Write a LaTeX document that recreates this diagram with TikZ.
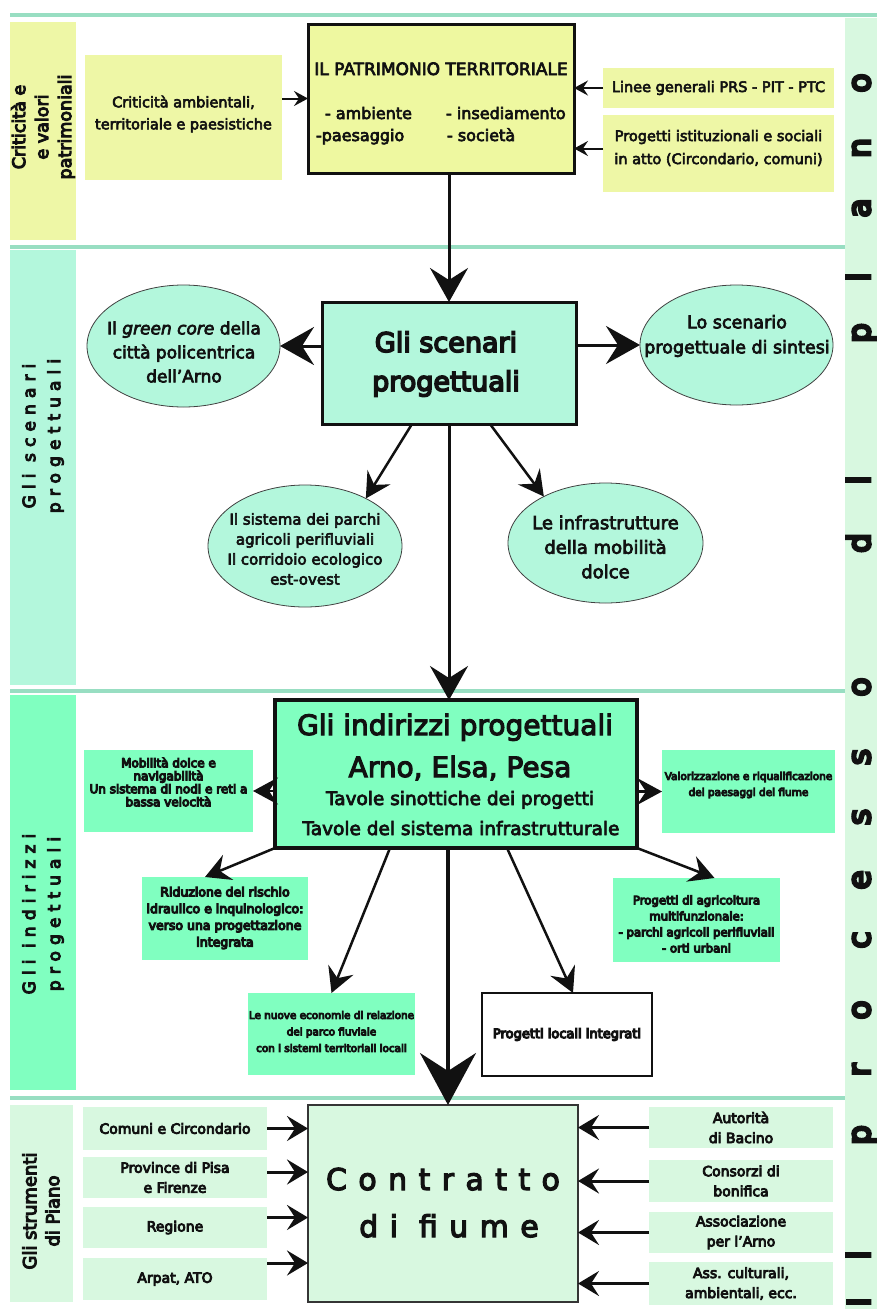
\documentclass[tikz,border=0pt]{standalone}
\usepackage{fontspec}
\setmainfont{DejaVu Sans}
\newfontfamily\semib{DejaVu Sans}[FakeBold=4]
\newfontfamily\heavy{DejaVu Sans}[FakeBold=6]
\newfontfamily\xheavy{DejaVu Sans}[FakeBold=9]
\usetikzlibrary{arrows.meta,shapes.geometric}
\newcommand{\myfs}[2]{\fontsize{#1pt}{#2pt}\selectfont}
\definecolor{yel}{HTML}{EEF7A6}
\definecolor{patrc}{HTML}{EEF8A0}
\definecolor{mint}{HTML}{B3F7DC}
\definecolor{brmint}{HTML}{80FFC0}
\definecolor{pale}{HTML}{D8F8E0}
\definecolor{sepc}{HTML}{98DEC2}
\definecolor{ink}{HTML}{111111}
\begin{document}
\begin{tikzpicture}[x=1pt,y=-1pt,
  every node/.style={inner sep=0pt,outer sep=0pt,text=ink},
  panel/.style={rectangle,draw=none},
  ell/.style={ellipse,draw=ink!80,line width=0.8pt,fill=mint},
  a1/.style={draw=ink,line width=2pt,-{Stealth[length=14pt,width=15pt,inset=5pt]}},
  a2/.style={draw=ink,line width=3pt,-{Stealth[length=34pt,width=38pt,inset=12pt]}},
  a3/.style={draw=ink,line width=2.5pt,-{Stealth[length=25pt,width=27pt,inset=9pt]}},
  a4/.style={draw=ink,line width=3.5pt,-{Stealth[length=52pt,width=56pt,inset=18pt]}},
  a5/.style={draw=ink,line width=3pt,-{Stealth[length=21pt,width=25pt,inset=8pt]}},
  sepl/.style={draw=sepc,line width=4.5pt},
  vlabel/.style={rotate=90,align=center},
  spc/.style={font=\heavy\myfs{17}{25}\addfontfeature{LetterSpace=36}}
]
\useasboundingbox[fill=white] (0,0) rectangle (877,1309);

% left bands and right column
\node[panel,fill=yel,minimum width=66pt,minimum height=218pt] (band1) at (43,131) {};
\node[panel,fill=mint,minimum width=66pt,minimum height=435pt] (band2) at (43,467.5) {};
\node[panel,fill=brmint,minimum width=66pt,minimum height=395pt] (band3) at (43,892.5) {};
\node[panel,fill=pale,minimum width=63pt,minimum height=197pt] (band4) at (41.5,1203.5) {};
\node[panel,fill=pale,minimum width=32pt,minimum height=1291pt] (rcol) at (861,663.5) {};

% separators
\draw[sepl] (10,15) -- (877,15);
\draw[sepl] (10,247) -- (845,247);
\draw[sepl] (10,691) -- (845,691);
\draw[sepl] (10,1098) -- (845,1098);

% band labels
\node[vlabel,font=\heavy\myfs{17.5}{23}] (band1t) at (43,127) {Criticità e\\e valori\\patrimoniali};
\node[vlabel,spc] (band2t) at (43,436) {Gli scenari\\progettuali};
\node[vlabel,spc] (band3t) at (43,914) {Gli indirizzi\\progettuali};
\node[vlabel,font=\heavy\myfs{18}{23}] (band4t) at (41,1211) {Gli strumenti\\di Piano};

% right column letters
\foreach \ch/\yy [count=\k] in {o/83,n/148,a/208,i/277,p/333,i/480,d/543,o/687,s/757,s/817,e/880,c/940,o/1010,r/1070,p/1135,l/1255,I/1302}
  \node[rotate=90,anchor=base,font=\xheavy\myfs{31}{31}] (rl\k) at (870,\yy) {\ch};

% ---- row 1
\node[panel,fill=yel,minimum width=197pt,minimum height=125pt] (crit) at (183.5,117.5) {};
\node[align=center,font=\semib\myfs{14.5}{22}] (critt) at (183.5,114) {Criticità ambientali,\\territoriale e paesistiche};
\node[rectangle,draw=ink,line width=3pt,fill=patrc,minimum width=266pt,minimum height=149pt] (patr) at (441,98.5) {};
\node[anchor=base,font=\semib\myfs{17}{20}] (ptitle) at (441,75) {IL PATRIMONIO TERRITORIALE};
\node[anchor=base west,font=\semib\myfs{16}{20}] (pamb) at (325,119) {- ambiente};
\node[anchor=base west,font=\semib\myfs{16}{20}] (ppae) at (316,141) {-paesaggio};
\node[anchor=base west,font=\semib\myfs{16}{20}] (pins) at (446,119) {- insediamento};
\node[anchor=base west,font=\semib\myfs{16}{20}] (psoc) at (447,141) {- società};
\node[panel,fill=yel,minimum width=231pt,minimum height=40pt,font=\semib\myfs{14.5}{18}] (linee) at (718.5,88) {Linee generali PRS - PIT - PTC};
\node[panel,fill=yel,minimum width=231pt,minimum height=77pt] (prog) at (718.5,153.5) {};
\node[align=center,font=\semib\myfs{14.5}{23}] (progt) at (718.5,148) {Progetti istituzionali e sociali\\in atto (Circondario, comuni)};
\coordinate (progw) at ([yshift=5pt]prog.west);

\draw[a1] (crit.east |- patr.west) -- (patr.west);
\draw[a1] (linee.west) -- (patr.east |- linee.west);
\draw[a1] (progw) -- (patr.east |- progw);

% ---- row 2
\node[rectangle,draw=ink,line width=3pt,fill=mint,minimum width=254pt,minimum height=122pt] (scen) at (449,363) {};
\node[anchor=base,font=\heavy\myfs{27}{30}] (scen1) at (446,352) {Gli scenari};
\node[anchor=base,font=\heavy\myfs{27}{30}] (scen2) at (446,391) {progettuali};
\node[ell,minimum width=193pt,minimum height=122pt] (gc) at (183.5,346) {};
\node[align=center,font=\semib\myfs{17}{24}] (gct) at (184,352) {Il \textit{green core} della\\città policentrica\\dell’Arno};
\node[ell,minimum width=193pt,minimum height=120pt] (sint) at (736.5,345) {};
\node[align=center,font=\semib\myfs{17.5}{25}] (sintt) at (737,336) {Lo scenario\\progettuale di sintesi};
\node[ell,minimum width=194pt,minimum height=122pt] (parchi) at (305,546) {};
\node[align=center,font=\semib\myfs{15}{20}] (parchit) at (305,549) {Il sistema dei parchi\\agricoli perifluviali\\Il corridoio ecologico\\est-ovest};
\node[ell,minimum width=195pt,minimum height=120pt] (infra) at (605.5,543) {};
\node[align=center,font=\semib\myfs{18}{24.5}] (infrat) at (605.5,547) {Le infrastrutture\\della mobilità\\dolce};

\draw[a2] (scen.north |- patr.south) -- (scen.north);
\draw[a2] (scen.west |- gc.east) -- (gc.east);
\draw[a2] (scen.east |- sint.west) -- (sint.west);
\draw[a3] ([xshift=-37pt]scen.south) -- (parchi.38);
\draw[a3] ([xshift=41pt]scen.south) -- (infra.143.6);

% ---- row 3
\node[rectangle,draw=ink,line width=4pt,fill=brmint,minimum width=362pt,minimum height=148pt] (ind) at (456,774) {};
\node[anchor=base,font=\semib\myfs{28}{30}] (ind1) at (455,735) {Gli indirizzi progettuali};
\node[anchor=base,font=\semib\myfs{28}{30}] (ind2) at (460,777) {Arno, Elsa, Pesa};
\node[anchor=base,font=\semib\myfs{18.5}{20}] (ind3) at (460,805) {Tavole sinottiche dei progetti};
\node[anchor=base,font=\semib\myfs{18.5}{20}] (ind4) at (461,835) {Tavole del sistema infrastrutturale};

\node[panel,fill=brmint,minimum width=169pt,minimum height=82pt] (mob) at (168.5,791) {};
\node[align=center,font=\xheavy\myfs{12}{13}] (mobt) at (168.5,782) {Mobilità dolce e\\navigabilità\\Un sistema di nodi e reti a\\bassa velocità};
\node[panel,fill=brmint,minimum width=173pt,minimum height=83pt] (valor) at (748.5,791.5) {};
\node[align=center,font=\xheavy\myfs{10.5}{16}] (valort) at (748.5,785) {Valorizzazione e riqualificazione\\dei paesaggi del fiume};
\node[panel,fill=brmint,minimum width=166pt,minimum height=83pt] (ridu) at (225,918.5) {};
\node[align=center,font=\xheavy\myfs{12.5}{16.7}] (ridut) at (225,918) {Riduzione del rischio\\idraulico e inquinologico:\\verso una progettazione\\integrata};
\node[panel,fill=brmint,minimum width=167pt,minimum height=84pt] (agri) at (696.5,920) {};
\node[align=center,font=\xheavy\myfs{11.7}{16}] (agrit) at (696.5,924) {Progetti di agricoltura\\multifunzionale:\\- parchi agricoli perifluviali\\- orti urbani};
\node[panel,fill=brmint,minimum width=167pt,minimum height=82pt] (nuove) at (331.5,1034) {};
\node[align=center,font=\xheavy\myfs{10.4}{16.5}] (nuovet) at (331.5,1031.5) {Le nuove economie di relazione\\del parco fluviale\\con i sistemi territoriali locali};
\node[rectangle,draw=ink,line width=1.5pt,fill=white,minimum width=170pt,minimum height=83pt,font=\xheavy\myfs{13}{16}] (loc) at (567,1034.5) {Progetti locali integrati};

\draw[a2] (scen.south) -- (scen.south |- ind.north);
\draw[a3] (mob.east -| ind.west) -- (mob.east);
\draw[a3] (valor.west -| ind.east) -- (valor.west);
\draw[a3] (ind.south west) -- ([xshift=-20pt]ridu.north);
\draw[a3] (ind.south east) -- ([xshift=18pt]agri.north);
\draw[a3] ([xshift=-66pt]ind.south) -- (nuove.north);
\draw[a3] ([xshift=51pt]ind.south) -- ([xshift=6pt]loc.north);

% ---- row 4
\node[rectangle,draw=ink!85,line width=2pt,fill=pale,minimum width=270pt,minimum height=197pt] (contr) at (443,1203.5) {};
\node[anchor=base,font=\semib\myfs{30}{32}\addfontfeature{LetterSpace=38}] (contr1) at (443,1190) {Contratto};
\node[anchor=base,font=\semib\myfs{30}{32}\addfontfeature{LetterSpace=38}] (contr2) at (449,1237) {di fiume};
\coordinate (ctop) at ([xshift=5pt]contr.north);
\draw[a4] (ind.south -| ctop) -- (ctop);

\tikzset{lbox/.style={panel,fill=pale,minimum width=184pt,align=center,font=\heavy\myfs{14}{20}}}
\node[lbox,minimum height=43pt] (comuni) at (175,1128.5) {Comuni e Circondario};
\node[lbox,minimum height=41pt] (prov) at (175,1177.5) {Province di Pisa\\e Firenze};
\node[lbox,minimum height=41pt] (reg) at (175,1227.5) {Regione};
\node[lbox,minimum height=42pt] (arpat) at (175,1279) {Arpat, ATO};
\node[lbox,minimum height=41pt] (autor) at (741,1127.5) {Autorità\\di Bacino};
\node[lbox,minimum height=42pt] (cons) at (741,1181) {Consorzi di\\bonifica};
\node[lbox,minimum height=41pt] (assoc) at (741,1232.5) {Associazione\\per l’Arno};
\node[lbox,minimum height=43pt] (asscult) at (741,1283.5) {Ass. culturali,\\ambientali, ecc.};
\coordinate (provE) at ([yshift=5.5pt]prov.east);
\coordinate (regE) at ([yshift=10pt]reg.east);
\coordinate (arpE) at ([yshift=16pt]arpat.east);

\draw[a5] (comuni.east) -- (comuni.east -| contr.west);
\draw[a5] (provE) -- (contr.west |- provE);
\draw[a5] (regE) -- (contr.west |- regE);
\draw[a5] (arpE) -- (contr.west |- arpE);
\draw[a5] (autor.west) -- (autor.west -| contr.east);
\draw[a5] (cons.west) -- (cons.west -| contr.east);
\draw[a5] (assoc.west) -- (assoc.west -| contr.east);
\draw[a5] (asscult.west) -- (asscult.west -| contr.east);
\end{tikzpicture}
\end{document}
